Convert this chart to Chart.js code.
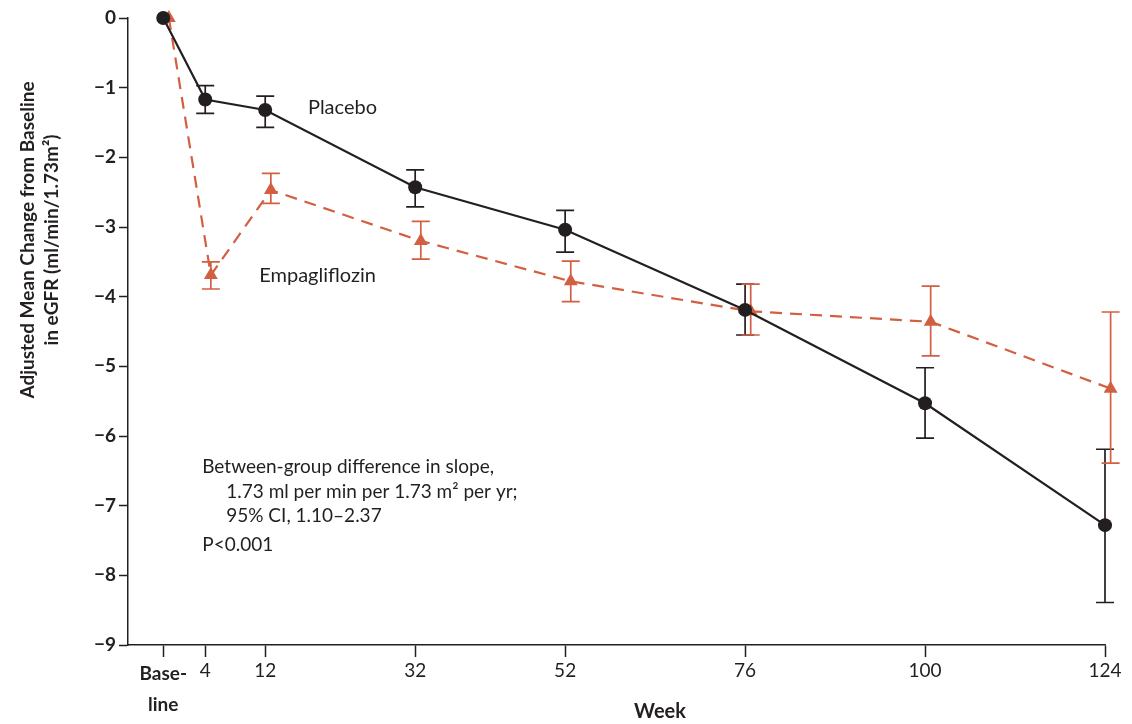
<!DOCTYPE html>
<html>
<head>
<meta charset="utf-8">
<script src="https://cdn.jsdelivr.net/npm/chart.js@4/dist/chart.umd.min.js"></script>
<style>
  html, body { margin: 0; padding: 0; background: #fff; }
</style>
</head>
<body>
<canvas id="egfrChart" width="1132" height="724"></canvas>
<script>
// week positions (baseline sits a little left of 0 in the original)
const BASELINE = -1.6;
const weeks = [BASELINE, 4, 12, 32, 52, 76, 100, 124];

// adjusted mean change in eGFR, with 95% CI bounds
const placeboMean = [0, -1.17, -1.32, -2.43, -3.04, -4.19, -5.53, -7.28];
const placeboLow  = [null, -1.37, -1.57, -2.71, -3.36, -4.55, -6.03, -8.39];
const placeboHigh = [null, -0.97, -1.12, -2.18, -2.76, -3.82, -5.02, -6.19];

const empaMean = [0, -3.69, -2.47, -3.20, -3.78, -4.21, -4.36, -5.32];
const empaLow  = [null, -3.89, -2.66, -3.46, -4.07, -4.55, -4.85, -6.39];
const empaHigh = [null, -3.50, -2.23, -2.92, -3.49, -3.82, -3.85, -4.22];

const INK = '#231f20';
const RED = '#d35f42';
const FONT = 'Lato, "Open Sans", sans-serif';
const DODGE = 0.75; // small horizontal offset so the two groups don't overlap

const toPoints = (xs, ys, shift) => xs.map((w, i) => ({ x: w + shift, y: ys[i] }));

const series = [
  { color: INK, xs: weeks.map(w => w), low: placeboLow, high: placeboHigh },
  { color: RED, xs: weeks.map(w => w + DODGE), low: empaLow, high: empaHigh }
];

// error bars drawn through the chart's own scales
const errorBars = {
  id: 'errorBars',
  beforeDatasetsDraw(chart) {
    const { ctx, scales: { x, y } } = chart;
    ctx.save();
    ctx.lineWidth = 1.7;
    series.forEach(s => {
      ctx.strokeStyle = s.color;
      s.xs.forEach((w, i) => {
        if (s.low[i] == null) return;
        const px = x.getPixelForValue(w);
        const y1 = y.getPixelForValue(s.low[i]);
        const y2 = y.getPixelForValue(s.high[i]);
        ctx.beginPath();
        ctx.moveTo(px, y1); ctx.lineTo(px, y2);
        ctx.moveTo(px - 9, y1); ctx.lineTo(px + 9, y1);
        ctx.moveTo(px - 9, y2); ctx.lineTo(px + 9, y2);
        ctx.stroke();
      });
    });
    ctx.restore();
  }
};

// free text: series labels, statistics note, axis titles
const annotations = {
  id: 'annotations',
  afterDraw(chart) {
    const { ctx, scales: { x, y } } = chart;
    ctx.save();
    ctx.fillStyle = INK;
    ctx.textBaseline = 'middle';
    ctx.textAlign = 'left';
    ctx.font = `20px ${FONT}`;
    ctx.fillText('Placebo', x.getPixelForValue(17.7), y.getPixelForValue(-1.29));
    ctx.fillText('Empagliflozin', x.getPixelForValue(11.2), y.getPixelForValue(-3.69));

    ctx.font = `19px ${FONT}`;
    const nx = x.getPixelForValue(3.6);
    const indent = 24;
    ctx.fillText('Between-group difference in slope,', nx, y.getPixelForValue(-6.44));
    ctx.fillText('1.73 ml per min per 1.73 m\u00b2 per yr;', nx + indent, y.getPixelForValue(-6.80));
    ctx.fillText('95% CI, 1.10\u20132.37', nx + indent, y.getPixelForValue(-7.14));
    ctx.fillText('P<0.001', nx, y.getPixelForValue(-7.56));

    // x title
    ctx.textAlign = 'center';
    ctx.font = `bold 20px ${FONT}`;
    ctx.fillText('Week', 660, 712);

    // y title
    ctx.translate(40, 240);
    ctx.rotate(-Math.PI / 2);
    ctx.font = `bold 19px ${FONT}`;
    ctx.fillText('Adjusted Mean Change from Baseline', 0, -12);
    ctx.fillText('in eGFR (ml/min/1.73m\u00b2)', 0, 12);
    ctx.restore();
  }
};

const ctx = document.getElementById('egfrChart').getContext('2d');
new Chart(ctx, {
  type: 'line',
  data: {
    datasets: [
      {
        label: 'Placebo',
        data: toPoints(weeks, placeboMean, 0),
        borderColor: INK,
        backgroundColor: INK,
        borderWidth: 2.2,
        pointStyle: 'circle',
        pointRadius: 7,
        pointBorderWidth: 0,
        clip: false
      },
      {
        label: 'Empagliflozin',
        data: toPoints(weeks, empaMean, DODGE),
        borderColor: RED,
        backgroundColor: RED,
        borderWidth: 2.2,
        borderDash: [12, 8],
        pointStyle: 'triangle',
        pointRadius: 8,
        pointBorderWidth: 0,
        clip: false
      }
    ]
  },
  options: {
    responsive: false,
    animation: false,
    devicePixelRatio: 1,
    layout: { padding: { top: 18, right: 27, left: 0, bottom: 0 } },
    plugins: { legend: { display: false }, tooltip: { enabled: false } },
    scales: {
      x: {
        type: 'linear',
        min: -6.3,
        max: 124,
        afterBuildTicks: s => { s.ticks = weeks.map(v => ({ value: v })); },
        afterFit: s => { s.height = 79; },
        border: { color: INK, width: 1.5 },
        grid: { drawOnChartArea: false, tickLength: 12, tickColor: INK, tickWidth: 1.5 },
        ticks: {
          autoSkip: false,
          maxRotation: 0,
          color: INK,
          padding: 2,
          font: c => (c.tick && c.tick.value === BASELINE)
            ? { family: FONT, size: 19, weight: 'bold', lineHeight: 1.6 }
            : { family: FONT, size: 19 },
          callback: v => v === BASELINE ? ['Base-', 'line'] : String(v)
        }
      },
      y: {
        min: -9,
        max: 0,
        afterFit: s => { s.width = 128; },
        border: { color: INK, width: 1.5 },
        grid: { drawOnChartArea: false, tickLength: 9, tickColor: INK, tickWidth: 1.5 },
        ticks: {
          stepSize: 1,
          color: INK,
          padding: 3,
          font: { family: FONT, size: 19, weight: 'bold' },
          callback: v => v === 0 ? '0' : '\u2212' + Math.abs(v)
        }
      }
    }
  },
  plugins: [errorBars, annotations]
});
</script>
</body>
</html>
